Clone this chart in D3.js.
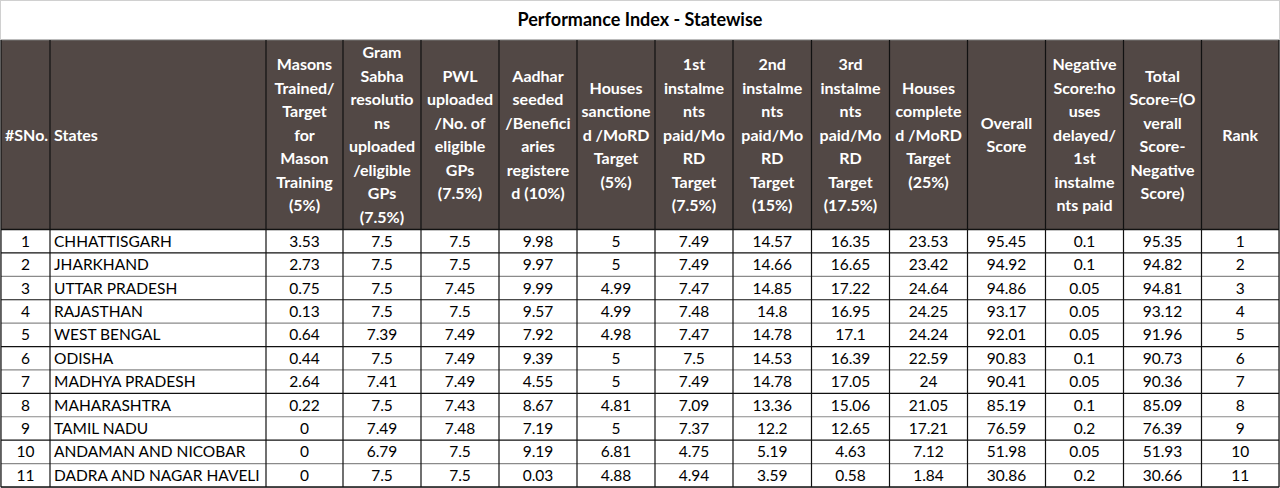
<!DOCTYPE html>
<html>
<head>
<meta charset="utf-8">
<title>Performance Index - Statewise</title>
<script src="https://d3js.org/d3.v7.min.js"></script>
<style>
  body { margin: 0; background: #fff; }
  svg { display: block; font-family: Lato, "Open Sans", sans-serif; }
</style>
</head>
<body>
<script>
var width = 1280, height = 488;

// header labels, line by line as wrapped in the sheet
var headers = [
  ["#SNo."],
  ["States"],
  ["Masons", "Trained/", "Target", "for", "Mason", "Training", "(5%)"],
  ["Gram", "Sabha", "resolutio", "ns", "uploaded", "/eligible", "GPs", "(7.5%)"],
  ["PWL", "uploaded", "/No. of", "eligible", "GPs", "(7.5%)"],
  ["Aadhar", "seeded", "/Benefici", "aries", "registere", "d (10%)"],
  ["Houses", "sanctione", "d /MoRD", "Target", "(5%)"],
  ["1st", "instalme", "nts", "paid/Mo", "RD", "Target", "(7.5%)"],
  ["2nd", "instalme", "nts", "paid/Mo", "RD", "Target", "(15%)"],
  ["3rd", "instalme", "nts", "paid/Mo", "RD", "Target", "(17.5%)"],
  ["Houses", "complete", "d /MoRD", "Target", "(25%)"],
  ["Overall", "Score"],
  ["Negative", "Score:ho", "uses", "delayed/", "1st", "instalme", "nts paid"],
  ["Total", "Score=(O", "verall", "Score-", "Negative", "Score)"],
  ["Rank"]
];

var states = ["CHHATTISGARH", "JHARKHAND", "UTTAR PRADESH", "RAJASTHAN", "WEST BENGAL",
  "ODISHA", "MADHYA PRADESH", "MAHARASHTRA", "TAMIL NADU", "ANDAMAN AND NICOBAR",
  "DADRA AND NAGAR HAVELI"];

var masons      = [3.53, 2.73, 0.75, 0.13, 0.64, 0.44, 2.64, 0.22, 0, 0, 0];
var gramSabha   = [7.5, 7.5, 7.5, 7.5, 7.39, 7.5, 7.41, 7.5, 7.49, 6.79, 7.5];
var pwl         = [7.5, 7.5, 7.45, 7.5, 7.49, 7.49, 7.49, 7.43, 7.48, 7.5, 7.5];
var aadhar      = [9.98, 9.97, 9.99, 9.57, 7.92, 9.39, 4.55, 8.67, 7.19, 9.19, 0.03];
var sanctioned  = [5, 5, 4.99, 4.99, 4.98, 5, 5, 4.81, 5, 6.81, 4.88];
var inst1       = [7.49, 7.49, 7.47, 7.48, 7.47, 7.5, 7.49, 7.09, 7.37, 4.75, 4.94];
var inst2       = [14.57, 14.66, 14.85, 14.8, 14.78, 14.53, 14.78, 13.36, 12.2, 5.19, 3.59];
var inst3       = [16.35, 16.65, 17.22, 16.95, 17.1, 16.39, 17.05, 15.06, 12.65, 4.63, 0.58];
var completed   = [23.53, 23.42, 24.64, 24.25, 24.24, 22.59, 24, 21.05, 17.21, 7.12, 1.84];
var overall     = [95.45, 94.92, 94.86, 93.17, 92.01, 90.83, 90.41, 85.19, 76.59, 51.98, 30.86];
var negative    = [0.1, 0.1, 0.05, 0.05, 0.05, 0.1, 0.05, 0.1, 0.2, 0.05, 0.2];
var total       = [95.35, 94.82, 94.81, 93.12, 91.96, 90.73, 90.36, 85.09, 76.39, 51.93, 30.66];
var rank        = [1, 2, 3, 4, 5, 6, 7, 8, 9, 10, 11];

var series = [masons, gramSabha, pwl, aadhar, sanctioned, inst1, inst2, inst3,
  completed, overall, negative, total, rank];

var rows = states.map(function(s, i) {
  return [String(i + 1), s].concat(series.map(function(a) { return String(a[i]); }));
});

// layout
var colEdges = [1, 50, 266, 343, 421, 499, 577, 655, 733, 811.5, 889.5, 967.5, 1045.5, 1123.5, 1201.5, 1279];
var headTop = 40, headBottom = 229.5, tableBottom = 487;
var lineH = 23.5;

var svg = d3.select("body").append("svg")
  .attr("width", width).attr("height", height);

svg.append("rect").attr("x", 0.5).attr("y", 0.5)
  .attr("width", width - 1).attr("height", height - 1)
  .attr("fill", "#fff").attr("stroke", "#d0d0d0");

svg.append("text")
  .attr("x", 640).attr("y", 26)
  .attr("text-anchor", "middle")
  .attr("font-size", 18).attr("font-weight", "bold").attr("fill", "#000")
  .text("Performance Index - Statewise");

var y = d3.scaleBand()
  .domain(d3.range(rows.length))
  .range([headBottom, tableBottom]);

function colX(i) { return colEdges[i]; }
function colW(i) { return colEdges[i + 1] - colEdges[i]; }

// header band
svg.append("rect")
  .attr("x", colEdges[0]).attr("y", headTop)
  .attr("width", colEdges[colEdges.length - 1] - colEdges[0])
  .attr("height", headBottom - headTop)
  .attr("fill", "#524845");

var hcell = svg.selectAll("g.hcell").data(headers).enter()
  .append("g").attr("class", "hcell");

hcell.each(function(lines, i) {
  var g = d3.select(this);
  var left = i < 2;
  var cx = left ? colX(i) + 4 : colX(i) + colW(i) / 2;
  var mid = (headTop + headBottom) / 2;
  var start = mid - (lines.length - 1) * lineH / 2;
  g.selectAll("text").data(lines).enter().append("text")
    .attr("x", cx)
    .attr("y", function(d, k) { return start + k * lineH; })
    .attr("dy", "0.36em")
    .attr("text-anchor", left ? "start" : "middle")
    .attr("font-size", 16).attr("font-weight", "bold").attr("fill", "#fff")
    .text(function(d) { return d; });
});

// body cells
var row = svg.selectAll("g.row").data(rows).enter()
  .append("g").attr("class", "row");

row.selectAll("text").data(function(d) { return d; }).enter().append("text")
  .attr("x", function(d, i) { return i === 1 ? colX(i) + 4 : colX(i) + colW(i) / 2; })
  .attr("y", function(d, i, n) {
    var r = rows.indexOf(d3.select(n[i].parentNode).datum());
    return y(r) + y.bandwidth() / 2;
  })
  .attr("dy", "0.36em")
  .attr("text-anchor", function(d, i) { return i === 1 ? "start" : "middle"; })
  .attr("font-size", 15.5).attr("fill", "#000")
  .text(function(d) { return d; });

// horizontal rules
svg.selectAll("line.h").data(d3.range(1, rows.length)).enter().append("line")
  .attr("x1", colEdges[0]).attr("x2", colEdges[colEdges.length - 1])
  .attr("y1", function(r) { return y(r); }).attr("y2", function(r) { return y(r); })
  .attr("stroke", function(r) { return r % 2 ? "#111" : "#8a8a8a"; })
  .attr("stroke-width", 1.2);

svg.append("line")
  .attr("x1", colEdges[0]).attr("x2", colEdges[colEdges.length - 1])
  .attr("y1", headBottom).attr("y2", headBottom)
  .attr("stroke", "#111").attr("stroke-width", 1.5);

svg.append("line")
  .attr("x1", colEdges[0]).attr("x2", colEdges[colEdges.length - 1])
  .attr("y1", tableBottom).attr("y2", tableBottom)
  .attr("stroke", "#111").attr("stroke-width", 1.5);

svg.append("line")
  .attr("x1", colEdges[0]).attr("x2", colEdges[colEdges.length - 1])
  .attr("y1", headTop).attr("y2", headTop)
  .attr("stroke", "#777").attr("stroke-width", 1);

// vertical rules
svg.selectAll("line.v").data(colEdges).enter().append("line")
  .attr("x1", function(d) { return d; }).attr("x2", function(d) { return d; })
  .attr("y1", headTop).attr("y2", tableBottom)
  .attr("stroke", "#111").attr("stroke-width", 1.2);
</script>
</body>
</html>
